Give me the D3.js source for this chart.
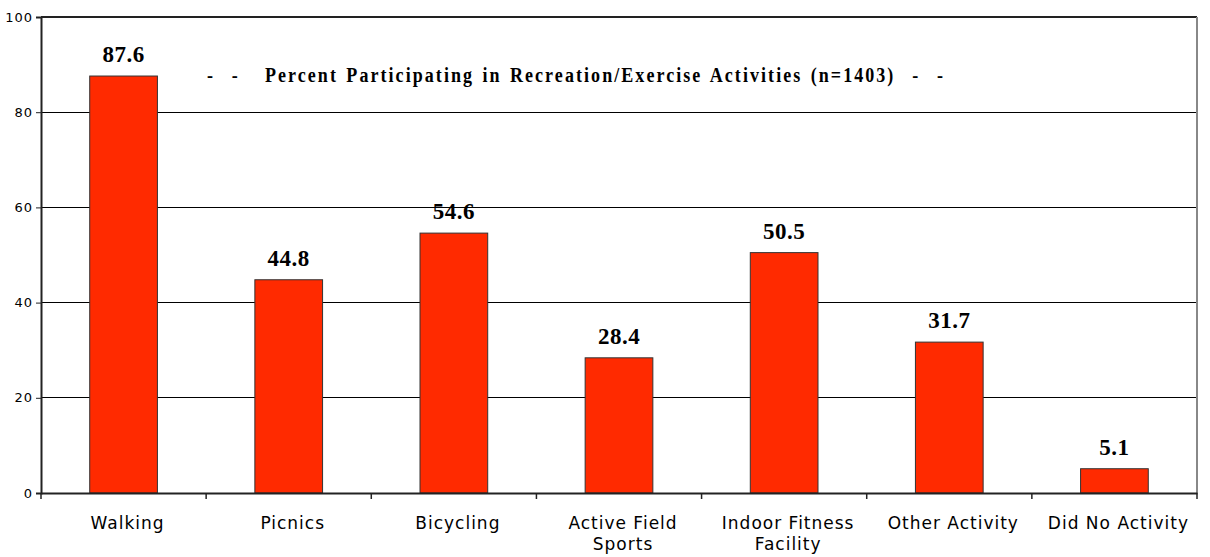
<!DOCTYPE html>
<html><head><meta charset="utf-8">
<script src="https://cdn.jsdelivr.net/npm/d3@7"></script>
<style>html,body{margin:0;padding:0;background:#fff;}svg{display:block;}</style>
</head><body>
<svg id="c" width="1210" height="557"></svg>
<script>
const categories = ["Walking","Picnics","Bicycling","Active Field Sports","Indoor Fitness Facility","Other Activity","Did No Activity"];
const categoryLines = [["Walking"],["Picnics"],["Bicycling"],["Active Field","Sports"],["Indoor Fitness","Facility"],["Other Activity"],["Did No Activity"]];
const values = [87.6, 44.8, 54.6, 28.4, 50.5, 31.7, 5.1];
const yTicks = [0, 20, 40, 60, 80, 100];
const titleText = "-  -   Percent Participating in Recreation/Exercise Activities (n=1403)  -  -";

const svg = d3.select("#c");
const m = {l: 41, t: 17, r: 1197, b: 493};
const x = d3.scaleBand().domain(categories).range([m.l, m.r]).paddingInner(0.59).paddingOuter(0.295);
const xs = d3.scaleBand().domain(categories).range([m.l, m.r]);
const y = d3.scaleLinear().domain([0, 100]).range([m.b, m.t]);

// gridlines
svg.append("g").selectAll("line").data(yTicks.filter(d => d > 0 && d < 100)).join("line")
  .attr("x1", m.l).attr("x2", m.r).attr("y1", d => y(d)).attr("y2", d => y(d))
  .attr("stroke", "#000").attr("stroke-width", 1).attr("shape-rendering", "crispEdges");
// top & right border
svg.append("line").attr("x1", m.l).attr("x2", m.r).attr("y1", y(100)).attr("y2", y(100))
  .attr("stroke", "#222").attr("stroke-width", 2).attr("shape-rendering", "crispEdges");
svg.append("line").attr("x1", m.r).attr("x2", m.r).attr("y1", m.t).attr("y2", m.b)
  .attr("stroke", "#888").attr("stroke-width", 2).attr("shape-rendering", "crispEdges");

// bars
svg.append("g").selectAll("rect").data(values).join("rect")
  .attr("x", (d, i) => x(categories[i])).attr("width", x.bandwidth())
  .attr("y", d => y(d)).attr("height", d => y(0) - y(d))
  .attr("fill", "#ff2a00").attr("stroke", "#333").attr("stroke-width", 1);

// value labels
svg.append("g").selectAll("text").data(values).join("text")
  .attr("x", (d, i) => x(categories[i]) + x.bandwidth() / 2)
  .attr("y", d => y(d) - 14)
  .attr("text-anchor", "middle")
  .attr("font-family", "Liberation Serif, serif").attr("font-weight", "bold").attr("font-size", 23)
  .attr("letter-spacing", 0.5)
  .text(d => d.toFixed(1));

// y axis
const ya = d3.axisLeft(y).tickValues(yTicks).tickSize(5).tickPadding(3).tickFormat(d3.format("d"));
const gy = svg.append("g").attr("transform", `translate(${m.l},0)`).call(ya);
gy.select(".domain").attr("stroke", "#222").attr("stroke-width", 2);
gy.selectAll(".tick line").attr("stroke", "#222");
gy.selectAll("text").attr("font-family", "DejaVu Sans, sans-serif").attr("font-size", 13).attr("letter-spacing", 1).attr("fill", "#000");

// x axis
const xa = d3.axisBottom(xs).tickValues([]).tickSizeOuter(0);
const gx = svg.append("g").attr("transform", `translate(0,${m.b})`).call(xa);
gx.select(".domain").attr("stroke", "#222").attr("stroke-width", 2);
svg.append("g").selectAll("line").data(categories.concat(["end"])).join("line")
  .attr("x1", (d, i) => m.l + i * xs.step()).attr("x2", (d, i) => m.l + i * xs.step())
  .attr("y1", m.b).attr("y2", m.b + 6).attr("stroke", "#222").attr("stroke-width", 1.5);

const xl = svg.append("g").selectAll("text").data(categoryLines).join("text")
  .attr("x", (d, i) => xs(categories[i]) + xs.bandwidth() / 2 + 4)
  .attr("y", 529)
  .attr("text-anchor", "middle")
  .attr("font-family", "DejaVu Sans, sans-serif").attr("font-size", 17).attr("letter-spacing", 1)
  .attr("fill", "#000");
xl.selectAll("tspan").data(d => d).join("tspan")
  .attr("x", function() { return this.parentNode.getAttribute("x"); })
  .attr("dy", (d, i) => i === 0 ? 0 : 21)
  .text(d => d);

// title (slightly condensed glyphs, letters spread to fit the width)
const sx = 0.9;
const tW = 738 / sx;
const t = svg.append("g").attr("transform", `scale(${sx},1)`)
  .append("text").attr("x", 207 / sx).attr("y", 82)
  .attr("font-family", "Liberation Serif, serif").attr("font-weight", "bold").attr("font-size", 20)
  .attr("xml:space", "preserve").style("white-space", "pre")
  .attr("word-spacing", 2)
  .text(titleText);
const nat = t.node().getComputedTextLength();
const nChars = titleText.length;
t.attr("letter-spacing", Math.max(0, (tW - nat) / nChars));
</script>
</body></html>
